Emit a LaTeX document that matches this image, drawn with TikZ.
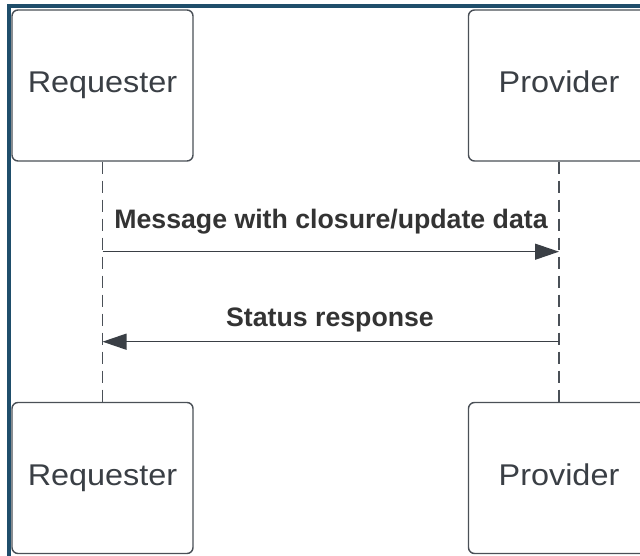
\documentclass[tikz,border=0pt]{standalone}
\usepackage{fontspec}
\setmainfont{Liberation Sans}
\usetikzlibrary{arrows.meta}
\definecolor{framecol}{HTML}{1F4E6B}
\definecolor{boxline}{HTML}{4A5057}
\definecolor{inkcol}{HTML}{3A3F45}
\definecolor{labelcol}{HTML}{333333}
\tikzset{
  actor/.style={draw=boxline, line width=1.4pt, rounded corners=6pt, fill=white,
    minimum width=181pt, minimum height=151pt, inner sep=0pt, text=inkcol,
    text height=22pt, text depth=8pt,
    font=\fontsize{30}{30}\selectfont},
  lifeline/.style={draw=boxline, line width=1.2pt, dash pattern=on 12pt off 7pt},
  msg/.style={draw=inkcol, line width=1.4pt, -{Triangle[length=24pt,width=16pt]}},
  msglabel/.style={text=labelcol, font=\bfseries\fontsize{26.7}{26.7}\selectfont, inner sep=0pt, anchor=base}
}
\begin{document}
\begin{tikzpicture}[x=1pt,y=-1pt]
  \useasboundingbox (0,0) rectangle (640,556);
  \fill[white] (0,0) rectangle (640,556);
  \clip (0,0) rectangle (640,556);

  % outer frame
  \draw[framecol, line width=3.8pt] (9,600) -- (9,6.3) -- (700,6.3);

  % participants
  \node[actor] (rt) at (102.5,85.5) {\scalebox{1.08}[1]{Requester}};
  \node[actor] (pt) at (559,85.5) {\scalebox{1.08}[1]{Provider}};
  \node[actor] (rb) at (102.5,478) {\scalebox{1.08}[1]{Requester}};
  \node[actor] (pb) at (559,478) {\scalebox{1.08}[1]{Provider}};

  % lifelines
  \draw[lifeline] (rt.south) -- (rb.north);
  \draw[lifeline] (pt.south) -- (pb.north);

  % message end points on the lifelines
  \coordinate (m1a) at (rt.south |- 0,251.7);
  \coordinate (m1b) at (pt.south |- 0,251.7);
  \coordinate (m2a) at (pt.south |- 0,341.7);
  \coordinate (m2b) at (rt.south |- 0,341.7);

  % messages
  \draw[msg] (m1a) -- (m1b);
  \node[msglabel] (l1) at (331,228.3) {Message with closure/update data};
  \draw[msg] (m2a) -- (m2b);
  \node[msglabel] (l2) at (330,326.7) {Status response};
\end{tikzpicture}
\end{document}
